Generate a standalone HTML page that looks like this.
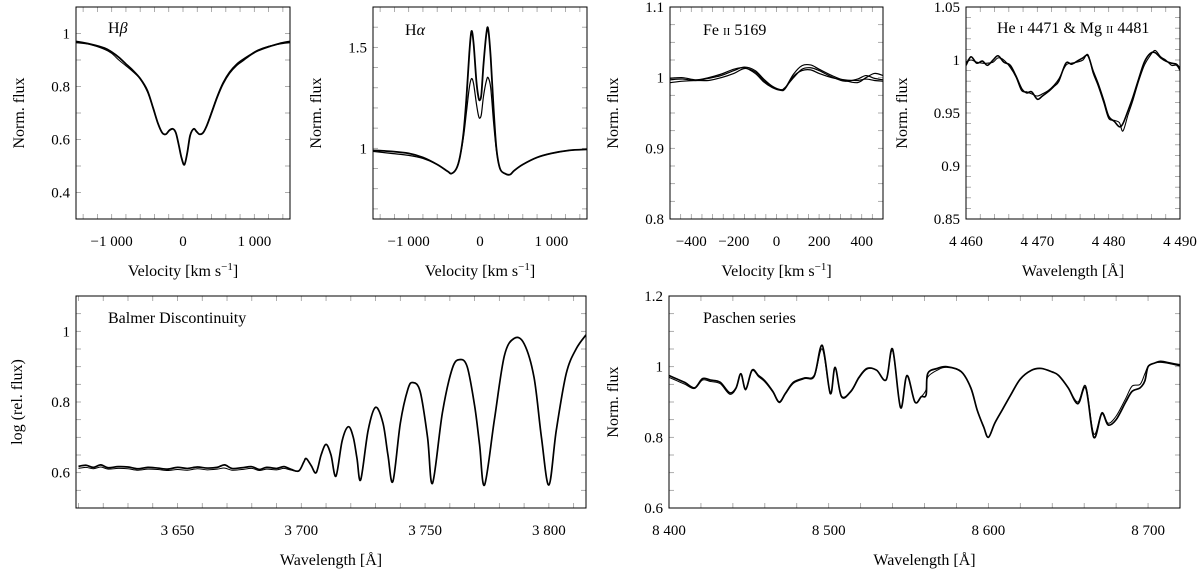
<!DOCTYPE html>
<html><head><meta charset="utf-8">
<style>
html,body{margin:0;padding:0;background:#fff;}
svg, svg text{font-family:"Liberation Serif","DejaVu Serif",serif;}
</style></head>
<body>
<svg id="fig" width="1200" height="573" viewBox="0 0 1200 573" xmlns="http://www.w3.org/2000/svg" font-family="Liberation Serif, DejaVu Serif, serif"></svg>
<script>
// ---------- DATA ----------
const hbVel = [-1500,-1300,-1100,-1000,-900,-800,-700,-600,-500,-420,-350,-290,-240,-190,-140,-100,-60,-20,20,60,100,150,190,230,280,330,400,480,560,650,750,850,950,1050,1200,1350,1500];
const hbFluxA = [0.97,0.96,0.945,0.93,0.91,0.885,0.86,0.83,0.785,0.72,0.66,0.625,0.62,0.635,0.64,0.625,0.58,0.53,0.505,0.55,0.615,0.64,0.63,0.62,0.625,0.65,0.7,0.76,0.81,0.85,0.88,0.9,0.92,0.935,0.95,0.962,0.97];
const hbFluxB = [0.965,0.958,0.94,0.925,0.9,0.878,0.855,0.828,0.78,0.72,0.66,0.625,0.62,0.635,0.64,0.625,0.58,0.53,0.505,0.55,0.615,0.64,0.63,0.62,0.625,0.652,0.705,0.765,0.815,0.855,0.885,0.905,0.922,0.938,0.952,0.96,0.965];

const haVel = [-1500,-1250,-1000,-800,-600,-450,-400,-330,-280,-230,-190,-150,-120,-90,-50,-20,0,20,50,90,115,150,190,230,280,350,420,480,600,800,1000,1250,1500];
const haFluxTall = [0.99,0.985,0.975,0.955,0.92,0.885,0.875,0.9,0.96,1.08,1.25,1.47,1.58,1.52,1.33,1.25,1.24,1.27,1.42,1.57,1.59,1.45,1.2,1.0,0.9,0.875,0.87,0.89,0.92,0.955,0.975,0.99,0.995];
const haFluxLow = [0.985,0.975,0.965,0.95,0.92,0.885,0.875,0.9,0.96,1.06,1.18,1.3,1.345,1.32,1.22,1.16,1.15,1.17,1.26,1.335,1.35,1.3,1.13,0.99,0.9,0.875,0.87,0.89,0.92,0.955,0.975,0.99,0.995];

const feVel = [-500,-440,-380,-320,-260,-200,-150,-100,-60,-20,20,40,80,120,160,200,260,320,380,420,460,500];
const feFluxA = [0.997,0.998,0.996,0.999,1.003,1.01,1.015,1.01,0.998,0.988,0.983,0.985,1.005,1.017,1.018,1.012,1.003,0.996,0.993,1.0,1.006,1.003];
const feFluxB = [0.993,0.995,0.996,0.996,1.0,1.006,1.013,1.008,0.996,0.987,0.983,0.986,1.0,1.012,1.014,1.01,1.001,0.995,0.998,1.003,0.999,0.997];
const feFluxC = [0.999,1.0,0.997,1.0,1.005,1.012,1.014,1.006,0.994,0.986,0.982,0.984,1.002,1.01,1.011,1.006,1.0,0.997,0.996,0.998,0.996,0.995];

const heWave = [4460,4460.7,4461.5,4462.3,4463,4463.8,4464.5,4465.3,4466.2,4467,4467.8,4468.5,4469.2,4470,4470.7,4471.5,4472.3,4473,4474,4474.8,4475.6,4476.4,4477.1,4477.8,4478.5,4479.3,4480,4480.8,4481.5,4482,4482.7,4483.4,4484.2,4485,4485.8,4486.5,4487.3,4488,4488.8,4489.5,4490];
const heFluxA = [0.995,1.003,0.997,0.999,0.995,1.0,1.004,0.998,0.995,0.985,0.973,0.969,0.97,0.963,0.966,0.97,0.975,0.98,0.997,0.996,0.999,1.002,1.004,0.99,0.978,0.962,0.947,0.942,0.937,0.94,0.952,0.965,0.982,0.998,1.006,1.007,1.002,0.999,0.997,0.996,0.992];
const heFluxB = [0.998,1.0,0.998,0.997,0.997,0.998,1.002,1.0,0.993,0.984,0.971,0.97,0.968,0.966,0.968,0.971,0.976,0.982,0.995,0.997,0.998,1.0,1.005,0.988,0.976,0.96,0.945,0.943,0.941,0.933,0.948,0.962,0.98,0.995,1.004,1.009,1.003,1.0,0.995,0.995,0.99];

const balFlatWaveA = [3610,3613,3616,3619,3622,3626,3630,3634,3638,3642,3646,3650,3654,3658,3662,3666,3669,3672,3676,3680,3683,3686,3690,3693,3696];
const balFlatA = [0.618,0.621,0.615,0.622,0.614,0.617,0.616,0.611,0.615,0.613,0.61,0.615,0.612,0.616,0.613,0.615,0.622,0.612,0.614,0.617,0.609,0.615,0.612,0.617,0.609];
const balFlatB = [0.612,0.615,0.611,0.616,0.61,0.612,0.611,0.607,0.61,0.609,0.606,0.609,0.607,0.611,0.608,0.61,0.613,0.607,0.609,0.612,0.606,0.61,0.608,0.612,0.607];
const balOscWave = [3699,3701,3702,3704,3706,3708,3710,3712,3714,3716.5,3719,3721,3722.5,3724,3727,3730,3733,3735,3737,3740,3743,3745,3748,3751,3753,3757,3761,3764,3767,3770,3772,3774,3778,3782,3786,3790,3794,3797,3800,3803,3807,3811,3815];
const balOsc = [0.605,0.63,0.64,0.62,0.6,0.65,0.68,0.65,0.59,0.69,0.73,0.7,0.64,0.58,0.72,0.785,0.74,0.65,0.575,0.74,0.835,0.855,0.83,0.7,0.57,0.77,0.895,0.92,0.9,0.79,0.68,0.565,0.75,0.93,0.98,0.965,0.87,0.7,0.565,0.72,0.88,0.95,0.99];

const paWave = [8400,8405,8410,8416,8421,8426,8432,8438,8442,8445,8448,8452,8456,8460,8465,8469,8473,8478,8485,8491,8496,8501,8504,8508,8514,8519,8524,8530,8536,8540,8545,8549,8554,8558,8561,8562,8568,8574,8583,8589,8593,8597,8600,8604,8609,8614,8620,8627,8633,8640,8644,8650,8656,8661,8666,8671,8675,8680,8686,8690,8695,8698,8700,8704,8708,8714,8720];
const paFluxA = [0.975,0.965,0.955,0.94,0.966,0.962,0.956,0.926,0.94,0.98,0.936,0.99,0.975,0.96,0.93,0.9,0.925,0.956,0.968,0.975,1.06,0.924,0.998,0.916,0.931,0.97,0.995,0.99,0.963,1.05,0.884,0.975,0.9,0.915,0.92,0.98,0.995,1.0,0.986,0.94,0.877,0.83,0.8,0.84,0.88,0.92,0.965,0.99,0.995,0.985,0.975,0.94,0.895,0.94,0.8,0.867,0.835,0.85,0.9,0.93,0.94,0.96,1.0,1.01,1.015,1.01,1.005];
const paFluxB = [0.97,0.96,0.95,0.938,0.962,0.958,0.952,0.922,0.938,0.978,0.934,0.988,0.972,0.957,0.928,0.898,0.923,0.953,0.966,0.972,1.05,0.924,0.996,0.914,0.929,0.968,0.993,0.99,0.962,1.045,0.886,0.973,0.9,0.915,0.935,0.97,0.99,0.998,0.985,0.94,0.877,0.83,0.8,0.84,0.88,0.92,0.965,0.99,0.995,0.985,0.975,0.94,0.9,0.945,0.81,0.87,0.84,0.86,0.91,0.945,0.95,0.98,1.0,1.01,1.012,1.008,1.002];

// tick labels
const hbXTicks = [-1000,0,1000], hbXLabels = ["−1 000","0","1 000"];
const hbYTicks = [0.4,0.6,0.8,1], hbYLabels = ["0.4","0.6","0.8","1"];
const haXTicks = [-1000,0,1000], haXLabels = ["−1 000","0","1 000"];
const haYTicks = [1,1.5], haYLabels = ["1","1.5"];
const feXTicks = [-400,-200,0,200,400], feXLabels = ["−400","−200","0","200","400"];
const feYTicks = [0.8,0.9,1,1.1], feYLabels = ["0.8","0.9","1","1.1"];
const heXTicks = [4460,4470,4480,4490], heXLabels = ["4 460","4 470","4 480","4 490"];
const heYTicks = [0.85,0.9,0.95,1,1.05], heYLabels = ["0.85","0.9","0.95","1","1.05"];
const balXTicks = [3650,3700,3750,3800], balXLabels = ["3 650","3 700","3 750","3 800"];
const balYTicks = [0.6,0.8,1], balYLabels = ["0.6","0.8","1"];
const paXTicks = [8400,8500,8600,8700], paXLabels = ["8 400","8 500","8 600","8 700"];
const paYTicks = [0.6,0.8,1,1.2], paYLabels = ["0.6","0.8","1","1.2"];

// ---------- DRAW ----------
const NS = "http://www.w3.org/2000/svg";
const FONT = '"Liberation Serif", "DejaVu Serif", serif';
const svg = document.getElementById('fig');
function mk(tag, attrs, parent){
  const e = document.createElementNS(NS, tag);
  for (const k in attrs) e.setAttribute(k, attrs[k]);
  if (tag === 'text') e.style.fontFamily = FONT;
  (parent||svg).appendChild(e);
  return e;
}
function smoothPath(pts){
  let d = "M"+pts[0][0].toFixed(2)+","+pts[0][1].toFixed(2);
  for (let i=0;i<pts.length-1;i++){
    const p0 = pts[Math.max(0,i-1)], p1 = pts[i], p2 = pts[i+1], p3 = pts[Math.min(pts.length-1,i+2)];
    const c1x = p1[0]+(p2[0]-p0[0])/6, c1y = p1[1]+(p2[1]-p0[1])/6;
    const c2x = p2[0]-(p3[0]-p1[0])/6, c2y = p2[1]-(p3[1]-p1[1])/6;
    d += " C"+c1x.toFixed(2)+","+c1y.toFixed(2)+" "+c2x.toFixed(2)+","+c2y.toFixed(2)+" "+p2[0].toFixed(2)+","+p2[1].toFixed(2);
  }
  return d;
}
function panel(cfg){
  const g = mk('g', {});
  
  
  const sx = v => cfg.x0 + (v-cfg.xmin)/(cfg.xmax-cfg.xmin)*(cfg.x1-cfg.x0);
  const sy = v => cfg.y1 - (v-cfg.ymin)/(cfg.ymax-cfg.ymin)*(cfg.y1-cfg.y0);
  const clipId = cfg.name+"-clip";
  const defs = mk('defs', {}, g);
  const cp = mk('clipPath', {id: clipId}, defs);
  mk('rect', {x:cfg.x0, y:cfg.y0, width:cfg.x1-cfg.x0, height:cfg.y1-cfg.y0}, cp);
  const tg = mk('g', {stroke:'#999', 'stroke-width':0.8}, g);
  
  
  const xs = Math.ceil(cfg.xmin/cfg.xstep-1e-9);
  for (let k=xs; k*cfg.xstep<=cfg.xmax+1e-9; k++){
    const X = sx(k*cfg.xstep);
    mk('line', {x1:X, x2:X, y1:cfg.y1, y2:cfg.y1-5}, tg);
    mk('line', {x1:X, x2:X, y1:cfg.y0, y2:cfg.y0+5}, tg);
  }
  const ys = Math.ceil(cfg.ymin/cfg.ystep-1e-9);
  for (let k=ys; k*cfg.ystep<=cfg.ymax+1e-9; k++){
    const Y = sy(k*cfg.ystep);
    mk('line', {x1:cfg.x0, x2:cfg.x0+5, y1:Y, y2:Y}, tg);
    mk('line', {x1:cfg.x1, x2:cfg.x1-5, y1:Y, y2:Y}, tg);
  }
  const sg = mk('g', {'clip-path':'url(#'+clipId+')', fill:'none', stroke:'#000', 'stroke-linejoin':'round'}, g);
  cfg.series.forEach((s, i) => {
    const pts = s.x.map((v, j) => [sx(v), sy(s.y[j])]);
    const p = mk('path', {d: smoothPath(pts), 'stroke-width': s.w}, sg);
    
    
  });
  const fr = mk('rect', {x:cfg.x0, y:cfg.y0, width:cfg.x1-cfg.x0, height:cfg.y1-cfg.y0, fill:'none', stroke:'#000', 'stroke-width':1}, g);
  
  
  cfg.xt.forEach((v, i) => {
    const t = mk('text', {x:sx(v), y:cfg.y1+27, 'text-anchor':'middle', 'font-size':15}, g);
    t.textContent = cfg.xl[i];
    
    
  });
  cfg.yt.forEach((v, i) => {
    const t = mk('text', {x:cfg.x0-6, y:sy(v)+5, 'text-anchor':'end', 'font-size':15}, g);
    t.textContent = cfg.yl[i];
    
    
  });
  const xtit = mk('text', {x:(cfg.x0+cfg.x1)/2, y:cfg.y1+57, 'text-anchor':'middle', 'font-size':16}, g);
  xtit.innerHTML = cfg.xtitle;
  
  
  const cy = (cfg.y0+cfg.y1)/2;
  const ytit = mk('text', {x:cfg.ytx, y:cy, 'text-anchor':'middle', 'font-size':16, transform:'rotate(-90 '+cfg.ytx+' '+cy+')'}, g);
  ytit.textContent = cfg.ytitle;
  
  
  const lab = mk('text', {x:cfg.lx, y:cfg.ly, 'font-size':16}, g);
  lab.innerHTML = cfg.label;
  
  
}
const velT = 'Velocity [km s<tspan dy="-6" font-size="11">−1</tspan><tspan dy="6">]</tspan>';
const sc = s => '<tspan font-size="11">'+s+'</tspan>';

panel({name:'hbeta-panel', x0:76, x1:290, y0:7, y1:219, xmin:-1500, xmax:1500, ymin:0.3, ymax:1.1, xstep:200, ystep:0.1,
  xt:hbXTicks, xl:hbXLabels, yt:hbYTicks, yl:hbYLabels, xtitle:velT, ytitle:'Norm. flux', ytx:24,
  label:'H<tspan font-style="italic">β</tspan>', lx:108, ly:33,
  series:[{x:hbVel,y:hbFluxB,w:1.0},{x:hbVel,y:hbFluxA,w:1.8}]});
panel({name:'halpha-panel', x0:373, x1:587, y0:7, y1:219, xmin:-1500, xmax:1500, ymin:0.65, ymax:1.7, xstep:200, ystep:0.1,
  xt:haXTicks, xl:haXLabels, yt:haYTicks, yl:haYLabels, xtitle:velT, ytitle:'Norm. flux', ytx:321,
  label:'H<tspan font-style="italic">α</tspan>', lx:405, ly:35,
  series:[{x:haVel,y:haFluxLow,w:1.2},{x:haVel,y:haFluxTall,w:1.8}]});
panel({name:'feii-panel', x0:670, x1:883, y0:7, y1:219, xmin:-500, xmax:500, ymin:0.8, ymax:1.1, xstep:50, ystep:0.025,
  xt:feXTicks, xl:feXLabels, yt:feYTicks, yl:feYLabels, xtitle:velT, ytitle:'Norm. flux', ytx:618,
  label:'Fe '+sc('II')+' 5169', lx:703, ly:35,
  series:[{x:feVel,y:feFluxA,w:1.2},{x:feVel,y:feFluxB,w:1.2},{x:feVel,y:feFluxC,w:1.2}]});
panel({name:'hei-mgii-panel', x0:966, x1:1180, y0:7, y1:219, xmin:4460, xmax:4490, ymin:0.85, ymax:1.05, xstep:2, ystep:0.01,
  xt:heXTicks, xl:heXLabels, yt:heYTicks, yl:heYLabels, xtitle:'Wavelength [Å]', ytitle:'Norm. flux', ytx:907,
  label:'He '+sc('I')+' 4471 &amp; Mg '+sc('II')+' 4481', lx:997, ly:33,
  series:[{x:heWave,y:heFluxB,w:1.1},{x:heWave,y:heFluxA,w:1.6}]});
panel({name:'balmer-panel', x0:76, x1:586, y0:296, y1:508, xmin:3609, xmax:3815, ymin:0.5, ymax:1.1, xstep:10, ystep:0.05,
  xt:balXTicks, xl:balXLabels, yt:balYTicks, yl:balYLabels, xtitle:'Wavelength [Å]', ytitle:'log (rel. flux)', ytx:22,
  label:'Balmer Discontinuity', lx:108, ly:323,
  series:[{x:balFlatWaveA.concat(balOscWave),y:balFlatB.concat(balOsc),w:1.0},{x:balFlatWaveA.concat(balOscWave),y:balFlatA.concat(balOsc),w:1.7}]});
panel({name:'paschen-panel', x0:669, x1:1180, y0:296, y1:508, xmin:8400, xmax:8720, ymin:0.6, ymax:1.2, xstep:20, ystep:0.05,
  xt:paXTicks, xl:paXLabels, yt:paYTicks, yl:paYLabels, xtitle:'Wavelength [Å]', ytitle:'Norm. flux', ytx:618,
  label:'Paschen series', lx:703, ly:323,
  series:[{x:paWave,y:paFluxB,w:1.0},{x:paWave,y:paFluxA,w:1.7}]});
</script>
</body></html>
